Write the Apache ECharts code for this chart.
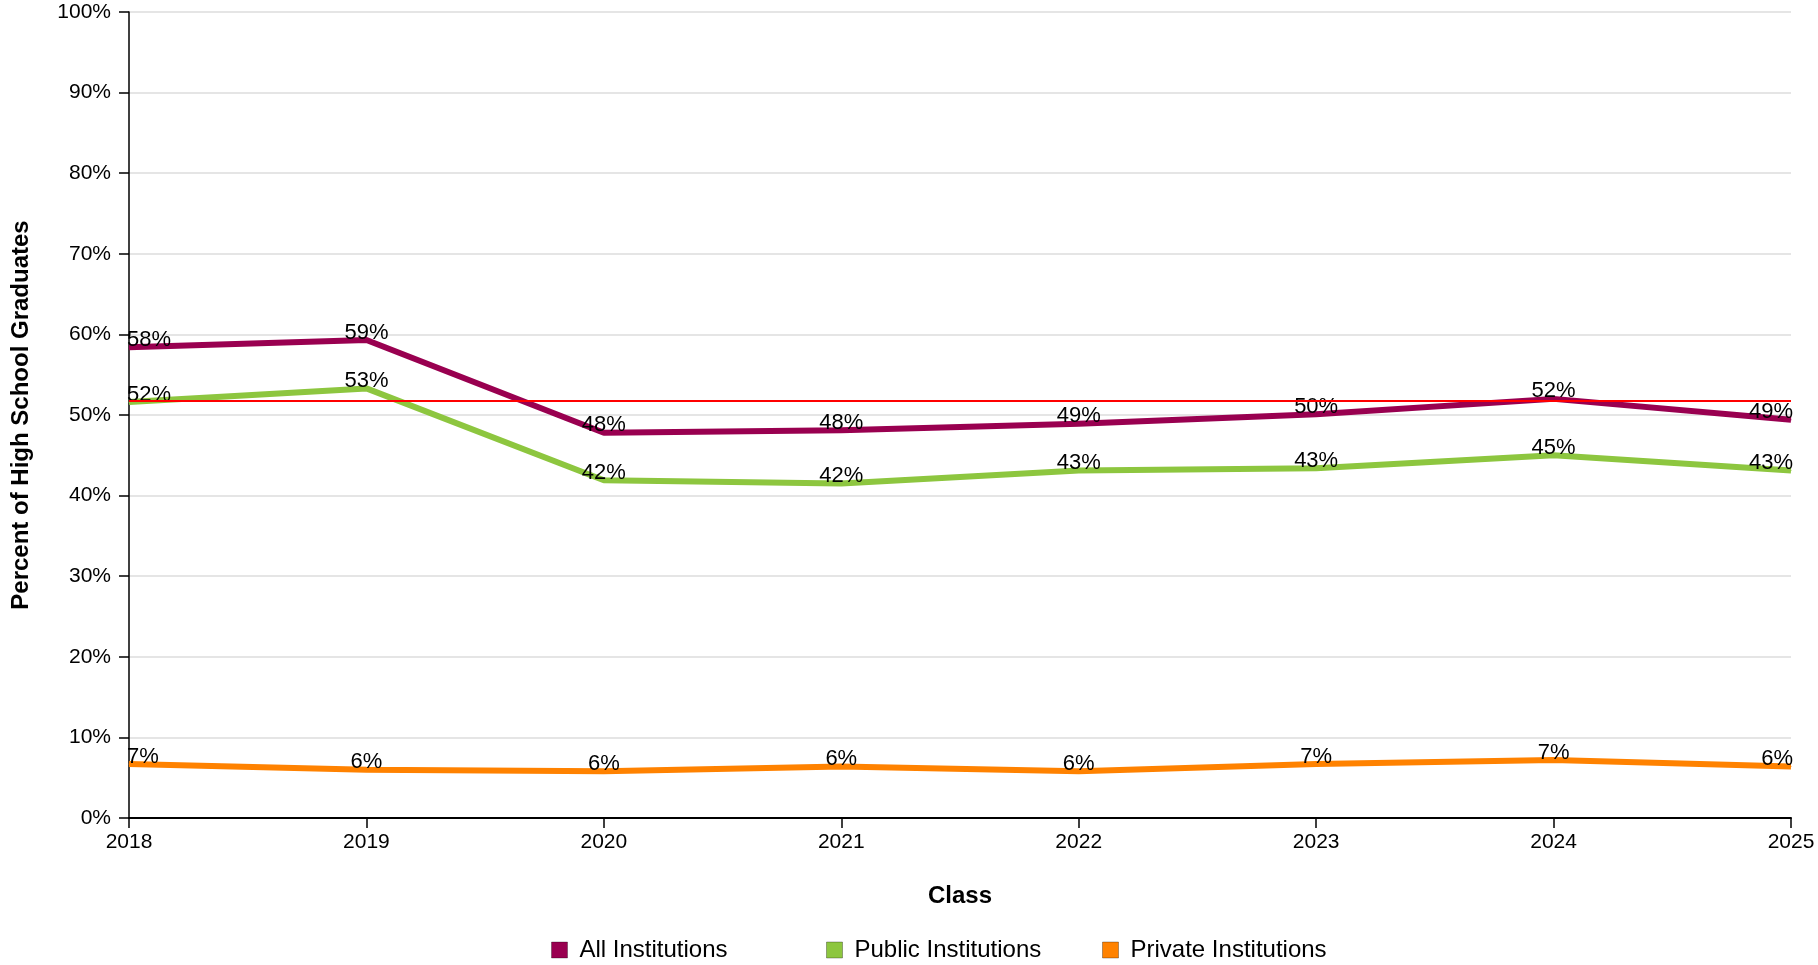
<!DOCTYPE html>
<html>
<head>
<meta charset="utf-8">
<script src="https://cdn.jsdelivr.net/npm/echarts@6/dist/echarts.min.js"></script>
<style>
  html, body { margin: 0; padding: 0; background: #fff; }
  #chart { width: 1818px; height: 965px; }
</style>
</head>
<body>
<div id="chart"></div>
<script>
const classes = ['2018', '2019', '2020', '2021', '2022', '2023', '2024', '2025'];
const allInstitutions = [58.4, 59.3, 47.8, 48.1, 48.9, 50.1, 52.0, 49.4];
const publicInstitutions = [51.6, 53.3, 41.9, 41.5, 43.1, 43.4, 45.0, 43.1];
const privateInstitutions = [6.7, 6.0, 5.8, 6.4, 5.8, 6.7, 7.2, 6.4];
const referenceLine = 51.8;
const yTicks = [0, 10, 20, 30, 40, 50, 60, 70, 80, 90, 100];
const seriesNames = ['All Institutions', 'Public Institutions', 'Private Institutions'];
const seriesColors = ['#990050', '#8DC63F', '#FF8200'];

const font = '"Liberation Sans", Arial, Helvetica, sans-serif';

// first label hugs the left axis, last one the right edge
const withLabels = (values) => values.map((v, i) => {
  const item = { value: v };
  if (i === 0) item.label = { align: 'left', offset: [-2, 0] };
  if (i === values.length - 1) item.label = { align: 'right', offset: [2, 0] };
  return item;
});

const lineSeries = (name, values, color) => ({
  name: name,
  type: 'line',
  data: withLabels(values),
  symbol: 'circle',
  symbolSize: 1,
  showSymbol: true,
  itemStyle: { color: color },
  lineStyle: { color: color, width: 6 },
  label: {
    show: true,
    position: 'top',
    distance: -4,
    color: '#000',
    fontFamily: font,
    fontSize: 22,
    formatter: (p) => Math.round(p.value) + '%'
  },
  emphasis: { disabled: true }
});

const chart = echarts.init(document.getElementById('chart'));

const series = [
  lineSeries(seriesNames[0], allInstitutions, seriesColors[0]),
  lineSeries(seriesNames[1], publicInstitutions, seriesColors[1]),
  lineSeries(seriesNames[2], privateInstitutions, seriesColors[2])
];
series[2].markLine = {
  silent: true,
  symbol: 'none',
  label: { show: false },
  lineStyle: { color: '#ff0000', width: 2, type: 'solid' },
  data: [{ yAxis: referenceLine }]
};

// legend items sit in fixed-width slots
const legendLefts = [546, 821, 1097];
const legends = seriesNames.map((name, i) => ({
  left: legendLefts[i],
  top: 933,
  itemWidth: 16,
  itemHeight: 16,
  icon: 'rect',
  itemStyle: { borderColor: 'rgba(0,0,0,0.3)', borderWidth: 1 },
  textStyle: { fontSize: 24, color: '#000', fontFamily: font, padding: [0, 0, 0, 7] },
  data: [name]
}));

chart.setOption({
  animation: false,
  backgroundColor: '#fff',
  textStyle: { fontFamily: font },
  grid: { left: 129, right: 27, top: 12, bottom: 147 },
  legend: legends,
  xAxis: {
    type: 'category',
    data: classes,
    boundaryGap: false,
    name: 'Class',
    nameLocation: 'middle',
    nameGap: 66,
    nameTextStyle: { fontSize: 24, fontWeight: 'bold', color: '#000', fontFamily: font },
    axisLine: { lineStyle: { color: '#000', width: 2 } },
    axisTick: { show: true, length: 10, lineStyle: { color: '#000', width: 1.5 } },
    axisLabel: { color: '#000', fontSize: 21, margin: 14, fontFamily: font },
    splitLine: { show: false }
  },
  yAxis: {
    type: 'value',
    min: yTicks[0],
    max: yTicks[yTicks.length - 1],
    interval: 10,
    name: 'Percent of High School Graduates',
    nameLocation: 'middle',
    nameGap: 96,
    nameTextStyle: { fontSize: 24, fontWeight: 'bold', color: '#000', fontFamily: font },
    axisLine: { show: true, lineStyle: { color: '#000', width: 1.5 } },
    axisTick: { show: true, length: 10, lineStyle: { color: '#000', width: 1.5 } },
    axisLabel: { color: '#000', fontSize: 21, margin: 18, fontFamily: font, formatter: '{value}%' },
    splitLine: { show: true, lineStyle: { color: '#dcdcdc', width: 1.5 } }
  },
  series: series
});
</script>
</body>
</html>
